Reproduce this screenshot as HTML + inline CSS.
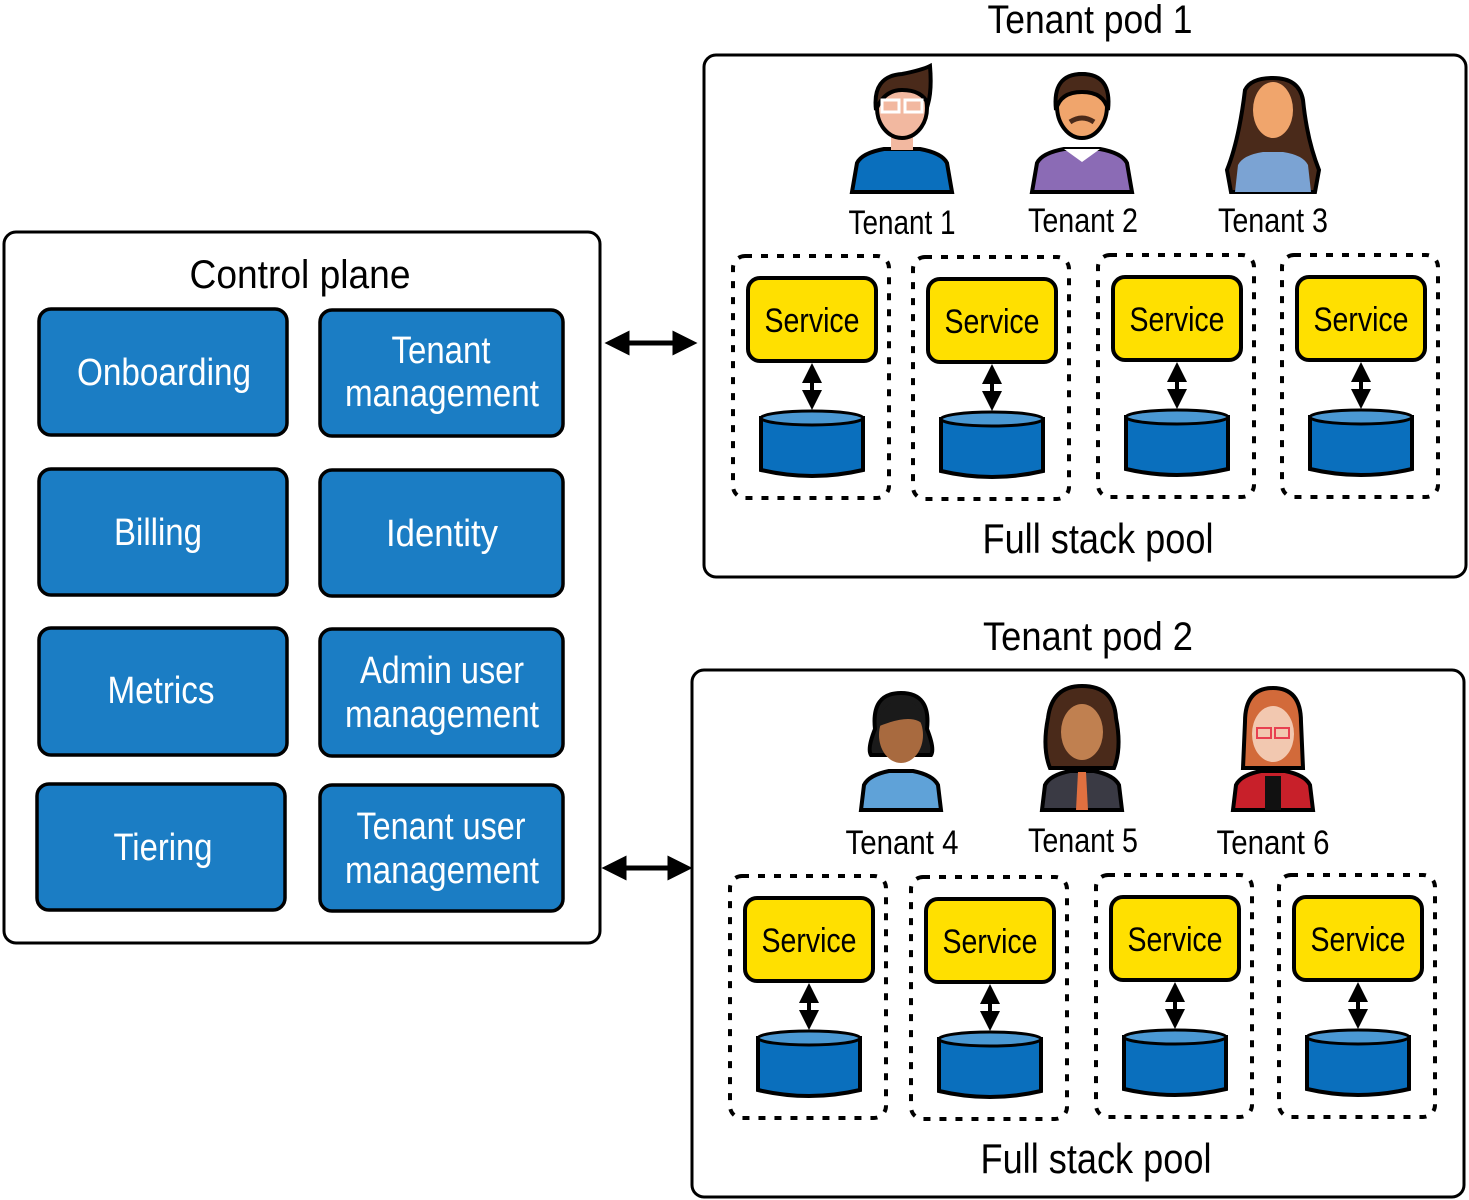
<!DOCTYPE html>
<html><head><meta charset="utf-8"><style>
html,body{margin:0;padding:0;background:#fff;}
svg{display:block;}
text{font-family:"Liberation Sans Narrow","Liberation Sans",sans-serif;}
</style></head><body>
<svg width="1469" height="1200" viewBox="0 0 1469 1200" xmlns="http://www.w3.org/2000/svg">
<defs>
<marker id="ah" markerWidth="4" markerHeight="4" refX="3" refY="2" orient="auto-start-reverse" markerUnits="strokeWidth"><path d="M0,0 L4,2 L0,4 Z" fill="#000"/></marker>
<marker id="ah2" markerWidth="5" markerHeight="5" refX="3.5" refY="2.5" orient="auto-start-reverse" markerUnits="strokeWidth"><path d="M0,0 L5,2.5 L0,5 Z" fill="#000"/></marker>
<g id="cyl">
 <path d="M0,8 L0,60 Q51,72 102,60 L102,8 Z" fill="#0a6fbd" stroke="#000" stroke-width="4"/>
 <ellipse cx="51" cy="8" rx="51" ry="7" fill="#4a98d3" stroke="#000" stroke-width="3"/>
</g>
<g id="col">
 <rect x="0" y="0" width="156" height="242" rx="12" fill="none" stroke="#000" stroke-width="4" stroke-dasharray="7,9"/>
 <rect x="15" y="22" width="128" height="83" rx="12" fill="#ffe000" stroke="#000" stroke-width="4"/>
 <text x="79" y="76" font-size="34" text-anchor="middle" fill="#000" textLength="95" lengthAdjust="spacingAndGlyphs">Service</text>
 <line x1="79" y1="113" x2="79" y2="148" stroke="#000" stroke-width="4" marker-start="url(#ah2)" marker-end="url(#ah2)"/>
 <use href="#cyl" x="28" y="154"/>
</g>
</defs>

<!-- Control plane -->
<rect x="4" y="232" width="596" height="711" rx="12" fill="#fff" stroke="#000" stroke-width="3"/>
<text x="300" y="288" font-size="40" text-anchor="middle" textLength="221" lengthAdjust="spacingAndGlyphs">Control plane</text>
<g fill="#1b7dc4" stroke="#000" stroke-width="3.5">
<rect x="39" y="309" width="248" height="126" rx="12"/>
<rect x="320" y="310" width="243" height="126" rx="12"/>
<rect x="39" y="469" width="248" height="126" rx="12"/>
<rect x="320" y="470" width="243" height="126" rx="12"/>
<rect x="39" y="628" width="248" height="127" rx="12"/>
<rect x="320" y="629" width="243" height="127" rx="12"/>
<rect x="37" y="784" width="248" height="126" rx="12"/>
<rect x="320" y="785" width="243" height="126" rx="12"/>
</g>
<g fill="#fff" font-size="38" text-anchor="middle">
<text x="164" y="385" textLength="174" lengthAdjust="spacingAndGlyphs">Onboarding</text>
<text x="441" y="363" textLength="99" lengthAdjust="spacingAndGlyphs">Tenant</text><text x="442" y="406" textLength="194" lengthAdjust="spacingAndGlyphs">management</text>
<text x="158" y="545" textLength="88" lengthAdjust="spacingAndGlyphs">Billing</text>
<text x="442" y="546" textLength="112" lengthAdjust="spacingAndGlyphs">Identity</text>
<text x="161" y="703" textLength="107" lengthAdjust="spacingAndGlyphs">Metrics</text>
<text x="442" y="683" textLength="164" lengthAdjust="spacingAndGlyphs">Admin user</text><text x="442" y="727" textLength="194" lengthAdjust="spacingAndGlyphs">management</text>
<text x="163" y="860" textLength="99" lengthAdjust="spacingAndGlyphs">Tiering</text>
<text x="441" y="839" textLength="169" lengthAdjust="spacingAndGlyphs">Tenant user</text><text x="442" y="883" textLength="194" lengthAdjust="spacingAndGlyphs">management</text>
</g>

<!-- connectors -->
<line x1="612" y1="343" x2="690" y2="343" stroke="#000" stroke-width="5" marker-start="url(#ah2)" marker-end="url(#ah2)"/>
<line x1="609" y1="868" x2="685" y2="868" stroke="#000" stroke-width="5" marker-start="url(#ah2)" marker-end="url(#ah2)"/>

<!-- Pod 1 -->
<text x="1090" y="33" font-size="40" text-anchor="middle" textLength="205" lengthAdjust="spacingAndGlyphs">Tenant pod 1</text>
<rect x="704" y="55" width="762" height="522" rx="12" fill="#fff" stroke="#000" stroke-width="3"/>
<g stroke="#000" stroke-width="4">
 <g transform="translate(902,70)">
  <path d="M-50,122 L-45,93 Q-40,83 -18,79 L18,79 Q40,83 45,93 L50,122 Z" fill="#0a6fbd"/>
  <rect x="-11" y="60" width="22" height="20" fill="#f2b8a0" stroke="none"/>
  <ellipse cx="0" cy="38" rx="25" ry="30" fill="#f2b8a0"/>
  <path d="M-26,40 Q-30,6 0,4 Q20,0 28,-4 Q30,20 26,34 Q20,20 0,20 Q-18,20 -26,40 Z" fill="#4a2a1a"/>
  <rect x="-20" y="30" width="17" height="12" fill="none" stroke="#fff" stroke-width="3"/>
  <rect x="3" y="30" width="17" height="12" fill="none" stroke="#fff" stroke-width="3"/>
 </g>
 <g transform="translate(1082,70)">
  <path d="M-50,122 L-45,93 Q-40,83 -18,79 L18,79 Q40,83 45,93 L50,122 Z" fill="#8b6bb5"/>
  <path d="M-18,79 L0,92 L18,79 Z" fill="#fff" stroke="none"/>
  <ellipse cx="0" cy="36" rx="25" ry="32" fill="#f0a56c"/>
  <path d="M-26,40 Q-30,4 0,4 Q30,4 26,40 Q22,22 0,22 Q-22,22 -26,40 Z" fill="#4a2a1a"/>
  <path d="M-12,52 Q0,44 12,52" fill="none" stroke="#4a2a1a" stroke-width="5"/>
 </g>
 <g transform="translate(1273,70)">
  <path d="M-28,20 Q-22,8 0,8 Q26,8 30,30 Q34,70 46,100 L42,122 L-42,122 L-46,100 Q-34,70 -28,20 Z" fill="#4a2a1a"/>
  <path d="M-38,122 L-35,95 Q-30,85 -10,82 L10,82 Q30,85 35,95 L38,122 Z" fill="#7ba3d3" stroke="none"/>
  <ellipse cx="0" cy="40" rx="20" ry="28" fill="#f0a56c" stroke="none"/>
 </g>
</g>
<g font-size="34" text-anchor="middle">
<text x="902" y="234" textLength="107" lengthAdjust="spacingAndGlyphs">Tenant 1</text>
<text x="1083" y="232" textLength="110" lengthAdjust="spacingAndGlyphs">Tenant 2</text>
<text x="1273" y="232" textLength="110" lengthAdjust="spacingAndGlyphs">Tenant 3</text>
</g>
<use href="#col" x="733" y="256"/>
<use href="#col" x="913" y="257"/>
<use href="#col" x="1098" y="255"/>
<use href="#col" x="1282" y="255"/>
<text x="1098" y="553" font-size="42" text-anchor="middle" textLength="231" lengthAdjust="spacingAndGlyphs">Full stack pool</text>

<!-- Pod 2 -->
<text x="1088" y="650" font-size="40" text-anchor="middle" textLength="210" lengthAdjust="spacingAndGlyphs">Tenant pod 2</text>
<rect x="692" y="670" width="772" height="527" rx="12" fill="#fff" stroke="#000" stroke-width="3"/>
<g stroke="#000" stroke-width="4">
 <g transform="translate(901,693)">
  <path d="M-26,36 Q-30,0 0,0 Q30,0 26,36 Q34,56 30,62 L-30,62 Q-34,56 -26,36 Z" fill="#1a1a1a"/>
  <path d="M-40,117 L-37,92 Q-32,82 -12,78 L12,78 Q32,82 37,92 L40,117 Z" fill="#5fa2d8"/>
  <ellipse cx="0" cy="42" rx="22" ry="28" fill="#a86a3f" stroke="none"/>
  <path d="M-24,34 Q-20,8 0,8 Q22,8 24,34 Q14,18 -24,34 Z" fill="#1a1a1a" stroke="none"/>
 </g>
 <g transform="translate(1082,688)">
  <path d="M-34,30 Q-30,-2 0,-2 Q32,-2 34,30 Q40,60 32,80 L-32,80 Q-40,60 -34,30 Z" fill="#4a2a1a"/>
  <path d="M-40,122 L-37,97 Q-32,87 -12,83 L12,83 Q32,87 37,97 L40,122 Z" fill="#3a3a44"/>
  <path d="M-4,84 L4,84 L6,122 L-6,122 Z" fill="#e07040" stroke="none"/>
  <ellipse cx="0" cy="44" rx="21" ry="28" fill="#c08050" stroke="none"/>
 </g>
 <g transform="translate(1273,688)">
  <path d="M-28,34 Q-28,0 0,0 Q28,0 28,34 L30,80 L-30,80 Z" fill="#d26a3a"/>
  <path d="M-40,122 L-37,97 Q-32,87 -12,83 L12,83 Q32,87 37,97 L40,122 Z" fill="#c8202a"/>
  <rect x="-8" y="88" width="16" height="34" fill="#111" stroke="none"/>
  <ellipse cx="0" cy="46" rx="21" ry="28" fill="#f2c8b0" stroke="none"/>
  <rect x="-16" y="40" width="14" height="10" fill="none" stroke="#e84050" stroke-width="2"/>
  <rect x="2" y="40" width="14" height="10" fill="none" stroke="#e84050" stroke-width="2"/>
 </g>
</g>
<g font-size="34" text-anchor="middle">
<text x="902" y="854" textLength="113" lengthAdjust="spacingAndGlyphs">Tenant 4</text>
<text x="1083" y="852" textLength="110" lengthAdjust="spacingAndGlyphs">Tenant 5</text>
<text x="1273" y="854" textLength="113" lengthAdjust="spacingAndGlyphs">Tenant 6</text>
</g>
<use href="#col" x="730" y="876"/>
<use href="#col" x="911" y="877"/>
<use href="#col" x="1096" y="875"/>
<use href="#col" x="1279" y="875"/>
<text x="1096" y="1173" font-size="42" text-anchor="middle" textLength="231" lengthAdjust="spacingAndGlyphs">Full stack pool</text>
</svg>
</body></html>
